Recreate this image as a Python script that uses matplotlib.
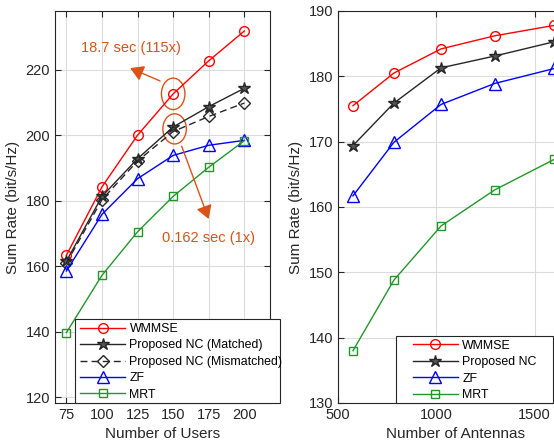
import numpy as np
import matplotlib.pyplot as plt
from matplotlib.patches import Ellipse, Rectangle

plt.rcParams['font.family'] = ['Liberation Sans', 'DejaVu Sans']
plt.rcParams['font.size'] = 11

# left panel: sum rate vs number of users
users = [75, 100, 125, 150, 175, 200]
wmmse_u = [163.4, 184.3, 200.1, 212.7, 222.8, 231.9]
nc_match_u = [161.6, 181.4, 192.9, 202.6, 208.8, 214.4]
nc_mis_u = [161.0, 180.4, 192.2, 201.2, 205.8, 209.9]
zf_u = [158.6, 175.9, 186.8, 193.9, 197.0, 198.5]
mrt_u = [139.8, 157.3, 170.6, 181.4, 190.3, 198.4]

# right panel: sum rate vs number of antennas
antennas = [576, 784, 1024, 1296, 1600]
wmmse_a = [175.5, 180.5, 184.2, 186.2, 187.8]
nc_a = [169.4, 175.9, 181.3, 183.1, 185.3]
zf_a = [161.7, 169.9, 175.7, 178.9, 181.2]
mrt_a = [138.0, 148.8, 157.1, 162.6, 167.3]

red = '#ff0000'
blk = '#262626'
blue = '#0000ff'
green = '#23962b'
orange = '#d95319'
axc = '#262626'

W, H = 554, 445
fig = plt.figure(figsize=(W/100, H/100), dpi=100)
ax1 = fig.add_axes([55/W, 42/H, 215/W, 392/H])
ax2 = fig.add_axes([338/W, 42/H, 236/W, 392/H])

ms = 7
lw = 1.0
legfs = 8.9

def style(ax):
    ax.grid(True, color='#dcdcdc', lw=0.8)
    ax.set_axisbelow(True)
    ax.tick_params(direction='in', top=True, right=True, color=axc, labelcolor=axc,
                   length=4, labelsize=10.5)
    for s in ax.spines.values():
        s.set_color(axc)
        s.set_linewidth(0.8)

def legend_box(ax, x0, y0, x1, y1, hlen, pad):
    # frameless legend + rectangle drawn in figure pixels (y measured from top)
    leg = ax.legend(loc='upper left', bbox_to_anchor=((x0 + pad) / W, (H - y0 - 4) / H),
                    bbox_transform=fig.transFigure, frameon=False, fontsize=legfs,
                    handlelength=hlen, handletextpad=0.35, labelspacing=0.36,
                    borderpad=0, borderaxespad=0)
    leg.set_zorder(6)
    ax.add_patch(Rectangle((x0 / W, (H - y1) / H), (x1 - x0) / W, (y1 - y0) / H,
                           transform=fig.transFigure, fc='white', ec=axc, lw=0.8,
                           zorder=5, clip_on=False))
    return leg

ax1.plot(users, wmmse_u, '-o', color=red, mfc='none', ms=ms, lw=lw, label='WMMSE')
ax1.plot(users, nc_match_u, '-*', color=blk, mfc='#555555', mec=blk, ms=ms+2, lw=lw, label='Proposed NC (Matched)')
ax1.plot(users, nc_mis_u, '--D', color=blk, mfc='none', ms=ms-1, lw=lw, dashes=(5, 3), label='Proposed NC (Mismatched)')
ax1.plot(users, zf_u, '-^', color=blue, mfc='none', ms=ms+1, lw=lw, label='ZF')
ax1.plot(users, mrt_u, '-s', color=green, mfc='none', ms=ms-1, lw=lw, label='MRT')
ax1.set_xlim(67, 218)
ax1.set_ylim(118.3, 238)
ax1.set_xticks(users)
ax1.set_yticks([120, 140, 160, 180, 200, 220])
ax1.set_xlabel('Number of Users', color=axc)
ax1.set_ylabel('Sum Rate (bit/s/Hz)', color=axc)
style(ax1)

ax1.add_patch(Ellipse((150, 212.7), 16.5, 9.6, fill=False, ec=orange, lw=1))
ax1.add_patch(Ellipse((151, 202.0), 16.5, 9.2, fill=False, ec=orange, lw=1))
ax1.annotate('', xy=(118, 220.9), xytext=(142.6, 216.3),
             arrowprops=dict(arrowstyle='-|>,head_length=0.5,head_width=0.3', color=orange, lw=1, mutation_scale=16))
ax1.annotate('', xy=(175.6, 173.7), xytext=(155.3, 197.5),
             arrowprops=dict(arrowstyle='-|>,head_length=0.5,head_width=0.3', color=orange, lw=1, mutation_scale=16))
ax1.text(120.6, 226.7, '18.7 sec (115x)', color=orange, ha='center', va='center', fontsize=10.5)
ax1.text(174.5, 168.6, '0.162 sec (1x)', color=orange, ha='center', va='center', fontsize=10.5)

legend_box(ax1, 75, 319, 280, 403, 3.65, 5)

ax2.plot(antennas, wmmse_a, '-o', color=red, mfc='none', ms=ms, lw=lw, label='WMMSE', clip_on=False)
ax2.plot(antennas, nc_a, '-*', color=blk, mfc='#555555', mec=blk, ms=ms+2, lw=lw, label='Proposed NC', clip_on=False)
ax2.plot(antennas, zf_a, '-^', color=blue, mfc='none', ms=ms+1, lw=lw, label='ZF', clip_on=False)
ax2.plot(antennas, mrt_a, '-s', color=green, mfc='none', ms=ms-1, lw=lw, label='MRT', clip_on=False)
ax2.set_xlim(500, 1700)
ax2.set_ylim(130, 190)
ax2.set_xticks([500, 1000, 1500])
ax2.set_yticks([130, 140, 150, 160, 170, 180, 190])
ax2.set_xlabel('Number of Antennas', color=axc)
ax2.set_ylabel('Sum Rate (bit/s/Hz)', color=axc)
style(ax2)
legend_box(ax2, 395.7, 335.7, 553, 403, 3.65, 17)

fig.savefig('out.png', dpi=100)
